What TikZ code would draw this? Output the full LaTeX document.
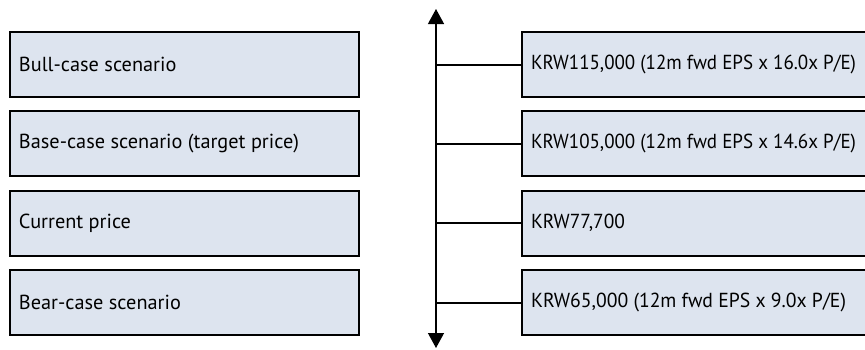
\documentclass[tikz,border=0pt]{standalone}
\usepackage{fontspec}
\usepackage{graphicx}
\setmainfont{PT Sans}
\usetikzlibrary{arrows.meta}
\definecolor{boxfill}{RGB}{221,228,239}
\newcommand\lefttext[1]{\makebox[331pt][l]{#1}}
\newcommand\righttext[2]{\makebox[328pt][l]{\resizebox{#1}{\height}{#2}}}
\begin{document}
\begin{tikzpicture}[x=1pt,y=-1pt,
  scen/.style={draw=black, line width=2pt, fill=boxfill, minimum height=65pt,
    inner xsep=9pt, inner ysep=0pt, anchor=west, font=\fontsize{20.3}{24}\selectfont},
  conn/.style={line width=2pt},
  axis/.style={line width=1.3pt, {Triangle[width=16pt,length=15pt]}-{Triangle[width=16pt,length=15pt]}}]
\useasboundingbox (0,0) rectangle (865,349);
\node[scen] (L1) at (9,64.5) {\lefttext{Bull-case scenario}};
\node[scen] (L2) at (9,143.5) {\lefttext{Base-case scenario (target price)}};
\node[scen] (L3) at (9,223) {\lefttext{Current price}};
\node[scen] (L4) at (9,302.5) {\lefttext{Bear-case scenario}};
\node[scen] (R1) at (521,64.5) {\righttext{325pt}{KRW115,000 (12m fwd EPS x 16.0x P/E)}};
\node[scen] (R2) at (521,143.5) {\righttext{325pt}{KRW105,000 (12m fwd EPS x 14.6x P/E)}};
\node[scen] (R3) at (521,223) {\righttext{94pt}{KRW77,700}};
\node[scen] (R4) at (521,302.5) {\righttext{315pt}{KRW65,000 (12m fwd EPS x 9.0x P/E)}};
\coordinate (top) at (436,9);
\coordinate (bot) at (436,348);
\draw[axis] (top) -- (bot);
\coordinate (c1) at (436,64.5);
\coordinate (c2) at (436,143.5);
\coordinate (c3) at (436,223);
\coordinate (c4) at (436,302.5);
\draw[conn] (c1) -- (R1.west);
\draw[conn] (c2) -- (R2.west);
\draw[conn] (c3) -- (R3.west);
\draw[conn] (c4) -- (R4.west);
\end{tikzpicture}
\end{document}
